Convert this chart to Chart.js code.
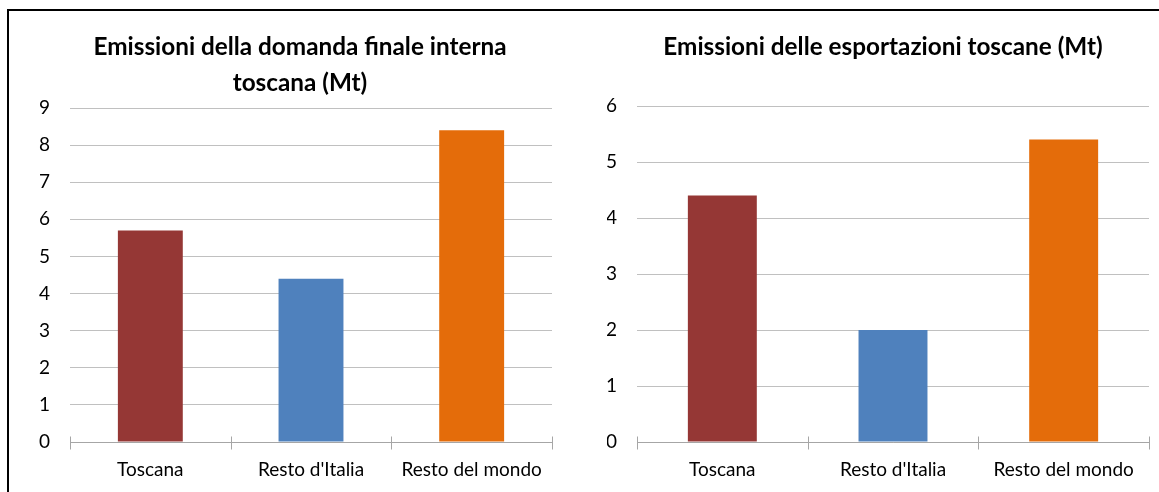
<!DOCTYPE html>
<html lang="it">
<head>
<meta charset="utf-8">
<title>Emissioni toscane (Mt)</title>
<script src="https://cdn.jsdelivr.net/npm/chart.js@4.4.1/dist/chart.umd.min.js"></script>
<style>
  html, body { margin: 0; padding: 0; background: #fff; }
  body { width: 1159px; height: 492px; position: relative; overflow: hidden; }
  .frame { position: absolute; left: 7px; top: 9px; width: 1200px; height: 600px;
           border-left: 2px solid #000; border-top: 2px solid #000; }
  .box { position: absolute; top: 12px; height: 480px; }
  #left  { left: 10px;  width: 580px; }
  #right { left: 607px; width: 552px; }
</style>
</head>
<body>
<div class="frame"></div>
<div class="box" id="left"><canvas id="cLeft"></canvas></div>
<div class="box" id="right"><canvas id="cRight"></canvas></div>
<script>
// Categories and values (Mt CO2)
const categories = ['Toscana', "Resto d'Italia", 'Resto del mondo'];
const domandaInterna = [5.7, 4.4, 8.4];
const esportazioni = [4.4, 2.0, 5.4];
const barColors = ['#953735', '#4f81bd', '#e46c0a'];
const titleInterna = ['Emissioni della domanda finale interna', 'toscana (Mt)'];
const titleExport = 'Emissioni delle esportazioni toscane (Mt)';

const FONT = 'Lato';
const GRID = '#c0c0c0';
const AXIS = '#a6a6a6';

// Tick marks crossing the category axis at each category boundary
const crossTicks = {
  id: 'crossTicks',
  afterDraw(chart) {
    const x = chart.scales.x;
    const n = chart.data.labels.length;
    const y = Math.round(chart.chartArea.bottom) + 0.5;
    const ctx = chart.ctx;
    ctx.save();
    ctx.strokeStyle = AXIS;
    ctx.lineWidth = 1;
    ctx.beginPath();
    for (let i = 0; i <= n; i++) {
      const px = Math.round(x.left + i * x.width / n) + 0.5;
      ctx.moveTo(px, y - 6);
      ctx.lineTo(px, y + 7);
    }
    ctx.stroke();
    ctx.restore();
  }
};

// Centre the title over the whole canvas, ignoring the right padding
const titleSpan = {
  id: 'titleSpan',
  afterLayout(chart) {
    const t = chart.titleBlock;
    if (t) { t.left = 0; t.right = chart.width; }
  }
};

function makeChart(id, values, title, yMax, yWidth, padRight, titlePad) {
  return new Chart(document.getElementById(id), {
    type: 'bar',
    data: {
      labels: categories,
      datasets: [{
        data: values,
        backgroundColor: barColors,
        borderWidth: 0,
        categoryPercentage: 1,
        barPercentage: 0.404
      }]
    },
    options: {
      responsive: true,
      maintainAspectRatio: false,
      animation: false,
      layout: { padding: { left: 0, right: padRight, top: 0, bottom: 0 } },
      plugins: {
        legend: { display: false },
        tooltip: { enabled: false },
        title: {
          display: true,
          text: title,
          color: '#000',
          font: { family: FONT, size: 24.3, weight: 'bold', lineHeight: 36 / 24.3 },
          padding: titlePad
        }
      },
      scales: {
        x: {
          grid: { display: false, drawTicks: false },
          border: { display: true, color: AXIS, width: 1 },
          ticks: { color: '#000', font: { family: FONT, size: 19 }, padding: 16, maxRotation: 0 },
          afterFit(s) { s.height = 50; }
        },
        y: {
          min: 0,
          max: yMax,
          grid: { color: GRID, drawTicks: false, lineWidth: 1 },
          border: { display: false },
          ticks: { stepSize: 1, color: '#000', font: { family: FONT, size: 19 }, padding: 20 },
          afterFit(s) { s.width = yWidth; }
        }
      }
    },
    plugins: [crossTicks, titleSpan]
  });
}

makeChart('cLeft', domandaInterna, titleInterna, 9, 60, 38, { top: 17, bottom: 7 });
makeChart('cRight', esportazioni, titleExport, 6, 30, 10, { top: 17, bottom: 41 });
</script>
</body>
</html>
